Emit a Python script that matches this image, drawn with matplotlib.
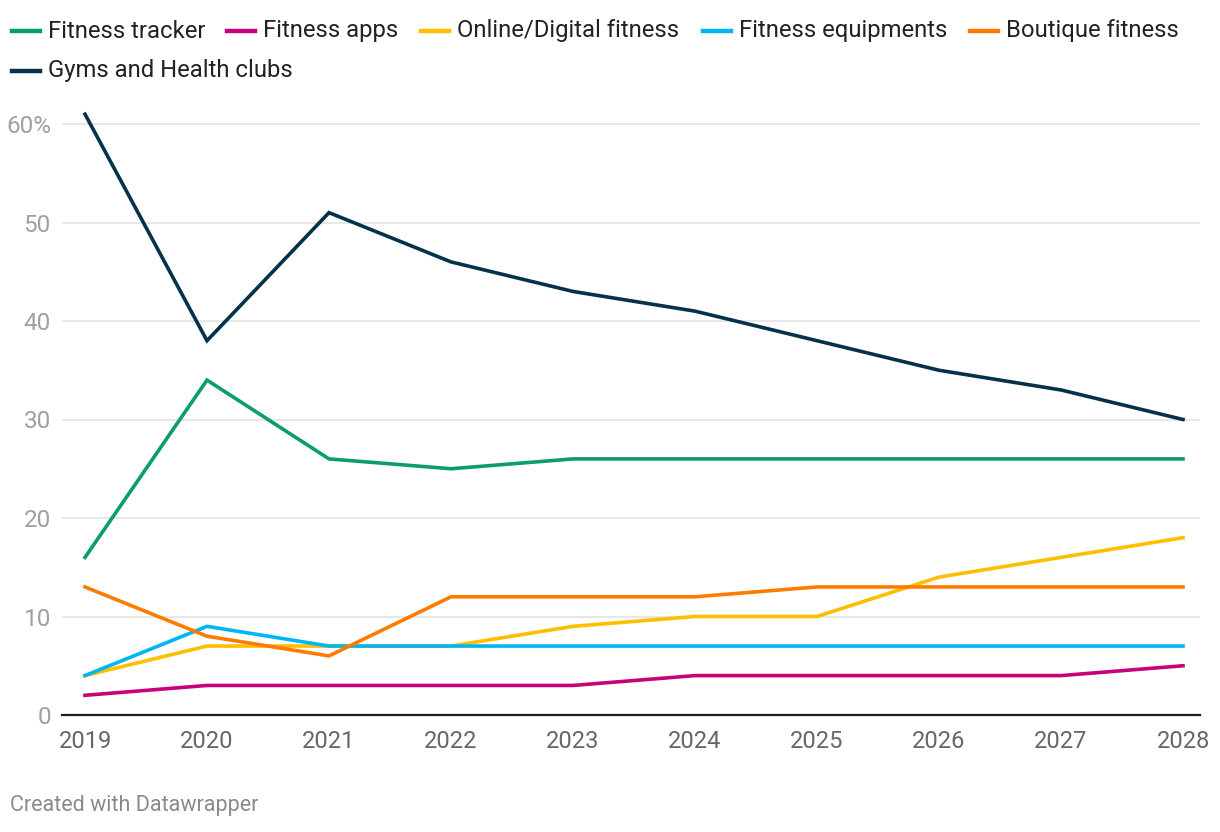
import matplotlib
matplotlib.use("Agg")
import matplotlib.pyplot as plt
from matplotlib.lines import Line2D

plt.rcParams['font.family'] = ['Roboto', 'DejaVu Sans']

# data
years = [2019, 2020, 2021, 2022, 2023, 2024, 2025, 2026, 2027, 2028]
fitness_tracker = [16, 34, 26, 25, 26, 26, 26, 26, 26, 26]
fitness_apps = [2, 3, 3, 3, 3, 4, 4, 4, 4, 5]
online_digital = [4, 7, 7, 7, 9, 10, 10, 14, 16, 18]
fitness_equipments = [4, 9, 7, 7, 7, 7, 7, 7, 7, 7]
boutique_fitness = [13, 8, 6, 12, 12, 12, 13, 13, 13, 13]
gyms_health_clubs = [61, 38, 51, 46, 43, 41, 38, 35, 33, 30]

series = [
    ("Fitness tracker", fitness_tracker, "#0b9e6a"),
    ("Fitness apps", fitness_apps, "#c8007a"),
    ("Online/Digital fitness", online_digital, "#ffbf00"),
    ("Fitness equipments", fitness_equipments, "#00b6f2"),
    ("Boutique fitness", boutique_fitness, "#ff7b00"),
    ("Gyms and Health clubs", gyms_health_clubs, "#04324b"),
]
y_ticks = [0, 10, 20, 30, 40, 50, 60]

W, H = 1220, 832
fig = plt.figure(figsize=(W / 100, H / 100), dpi=100)
# axes in pixel terms: left 62, right 1200, bottom 715, top 111
ax = fig.add_axes([62 / W, (H - 715) / H, (1200 - 62) / W, (715 - 111) / H])

# draw order: gyms on top, as in the reference
for name, vals, col in series:
    ax.plot(years, vals, color=col, lw=2.6, solid_joinstyle="miter", clip_on=False, zorder=3)

ax.set_xlim(2019 - 23 / 122, 2028 + 17 / 122)
ax.set_ylim(0, (715 - 111) / 9.85)

ax.set_yticks(y_ticks)
ax.set_yticklabels([f"{t}%" if t == 60 else str(t) for t in y_ticks])
ax.set_xticks(years)
ax.set_xticklabels([str(y) for y in years])
ax.grid(axis="y", color="#e3e3e3", lw=1.2, zorder=0)
for s in ["top", "right", "left"]:
    ax.spines[s].set_visible(False)
ax.spines["bottom"].set_color("#1d1d1d")
ax.spines["bottom"].set_linewidth(1.6)
ax.spines["bottom"].set_zorder(4)
ax.tick_params(axis="y", length=0, pad=8, labelsize=17.5, labelcolor="#a0a0a0")
ax.tick_params(axis="x", length=0, pad=11, labelsize=17, labelcolor="#666666")

# legend, two rows like the datawrapper header
legend_x = [12, 227, 421, 703, 970, 12]
legend_y = [31, 31, 31, 31, 31, 71]
for (name, vals, col), lx, ly in zip(series, legend_x, legend_y):
    yf = 1 - ly / H
    fig.add_artist(Line2D([lx / W, (lx + 28) / W], [yf, yf], color=col, lw=3.2,
                          transform=fig.transFigure))
    fig.text((lx + 36) / W, yf, name, fontsize=17.2, color="#222222", va="center", ha="left")

fig.text(10 / W, 1 - 806 / H, "Created with Datawrapper", fontsize=15.5, color="#8a8a8a",
         va="center", ha="left")

fig.savefig("out.png", dpi=100, facecolor="white")
